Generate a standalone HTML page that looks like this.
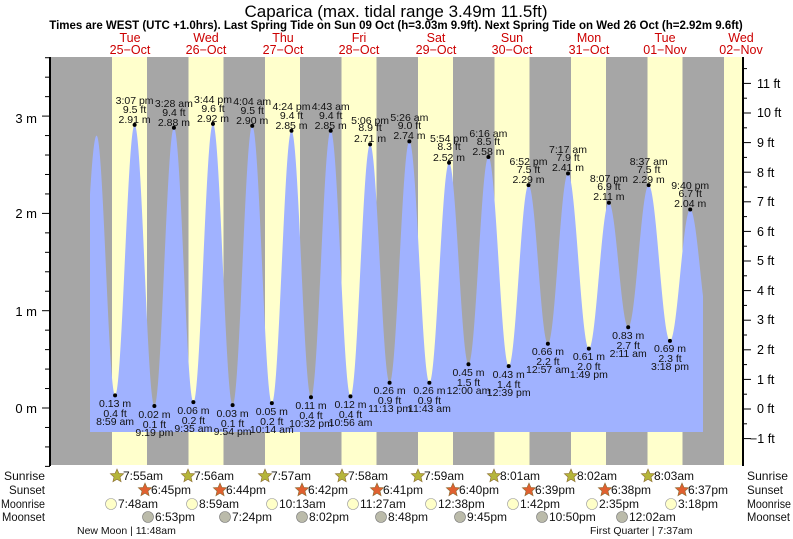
<!DOCTYPE html>
<html><head><meta charset="utf-8"><style>
body{margin:0;background:#fff;width:793px;height:539px;overflow:hidden}
svg{display:block;font-family:"Liberation Sans",sans-serif}
.t{font-size:10.5px;fill:#111;text-anchor:middle}
.d{font-size:12.5px;fill:#cc0000;text-anchor:middle}
.r{font-size:12px;fill:#111}
</style></head><body>
<svg id="s" width="793" height="539" viewBox="0 0 793 539">
<rect x="50" y="57" width="693" height="408" fill="#a6a6a6"/>
<g id="bands" fill="#ffffcc"></g>
<path id="tide" fill="#a0b2ff"/>
<g id="ticks" stroke="#000"></g>
<line x1="50" y1="57" x2="50" y2="466" stroke="#000" stroke-width="2"/>
<line x1="743" y1="57" x2="743" y2="466" stroke="#000" stroke-width="2"/>
<text x="396" y="17" font-size="17" text-anchor="middle">Caparica (max. tidal range 3.49m 11.5ft)</text>
<text x="396" y="29" font-size="11.5" font-weight="bold" text-anchor="middle">Times are WEST (UTC +1.0hrs). Last Spring Tide on Sun 09 Oct (h=3.03m 9.9ft). Next Spring Tide on Wed 26 Oct (h=2.92m 9.6ft)</text>
<g class="d">
<text x="130" y="42">Tue</text><text x="130" y="54">25−Oct</text>
<text x="206" y="42">Wed</text><text x="206" y="54">26−Oct</text>
<text x="283" y="42">Thu</text><text x="283" y="54">27−Oct</text>
<text x="359" y="42">Fri</text><text x="359" y="54">28−Oct</text>
<text x="436" y="42">Sat</text><text x="436" y="54">29−Oct</text>
<text x="512" y="42">Sun</text><text x="512" y="54">30−Oct</text>
<text x="589" y="42">Mon</text><text x="589" y="54">31−Oct</text>
<text x="665" y="42">Tue</text><text x="665" y="54">01−Nov</text>
<text x="741" y="42">Wed</text><text x="741" y="54">02−Nov</text>
</g>
<g font-size="13" text-anchor="end">
<text x="37" y="123">3 m</text><text x="37" y="218">2 m</text><text x="37" y="316">1 m</text><text x="37" y="413">0 m</text>
</g>
<g font-size="12.5">
<text x="757" y="88">11 ft</text><text x="757" y="117">10 ft</text><text x="757" y="147">9 ft</text><text x="757" y="177">8 ft</text><text x="757" y="206">7 ft</text><text x="757" y="236">6 ft</text><text x="757" y="265">5 ft</text><text x="757" y="295">4 ft</text><text x="757" y="324">3 ft</text><text x="757" y="354">2 ft</text><text x="757" y="384">1 ft</text><text x="757" y="413">0 ft</text><text x="750" y="443">−1 ft</text>
</g>
<g id="dots" fill="#000"></g>
<g class="t">
<text x="134.6" y="104">3:07 pm</text><text x="134.6" y="113">9.5 ft</text><text x="134.6" y="123">2.91 m</text>
<text x="173.9" y="107">3:28 am</text><text x="173.9" y="116">9.4 ft</text><text x="173.9" y="126">2.88 m</text>
<text x="213" y="103">3:44 pm</text><text x="213" y="112">9.6 ft</text><text x="213" y="122">2.92 m</text>
<text x="252.2" y="105">4:04 am</text><text x="252.2" y="114">9.5 ft</text><text x="252.2" y="124">2.90 m</text>
<text x="291.5" y="110">4:24 pm</text><text x="291.5" y="119">9.4 ft</text><text x="291.5" y="129">2.85 m</text>
<text x="330.7" y="110">4:43 am</text><text x="330.7" y="119">9.4 ft</text><text x="330.7" y="129">2.85 m</text>
<text x="370.1" y="124">5:06 pm</text><text x="370.1" y="131">8.9 ft</text><text x="370.1" y="142">2.71 m</text>
<text x="409.4" y="121">5:26 am</text><text x="409.4" y="129">9.0 ft</text><text x="409.4" y="139">2.74 m</text>
<text x="449" y="142">5:54 pm</text><text x="449" y="150">8.3 ft</text><text x="449" y="161">2.52 m</text>
<text x="488.4" y="137">6:16 am</text><text x="488.4" y="145">8.5 ft</text><text x="488.4" y="155">2.58 m</text>
<text x="528.5" y="165">6:52 pm</text><text x="528.5" y="173">7.5 ft</text><text x="528.5" y="183">2.29 m</text>
<text x="568" y="153">7:17 am</text><text x="568" y="161">7.9 ft</text><text x="568" y="171">2.41 m</text>
<text x="608.9" y="182">8:07 pm</text><text x="608.9" y="190">6.9 ft</text><text x="608.9" y="200">2.11 m</text>
<text x="648.7" y="165">8:37 am</text><text x="648.7" y="173">7.5 ft</text><text x="648.7" y="183">2.29 m</text>
<text x="690.2" y="189">9:40 pm</text><text x="690.2" y="197">6.7 ft</text><text x="690.2" y="207">2.04 m</text>

<text x="115.1" y="407">0.13 m</text><text x="115.1" y="417">0.4 ft</text><text x="115.1" y="425">8:59 am</text>
<text x="154.4" y="418">0.02 m</text><text x="154.4" y="428">0.1 ft</text><text x="154.4" y="436">9:19 pm</text>
<text x="193.4" y="414">0.06 m</text><text x="193.4" y="424">0.2 ft</text><text x="193.4" y="432">9:35 am</text>
<text x="232.6" y="417">0.03 m</text><text x="232.6" y="427">0.1 ft</text><text x="232.6" y="435">9:54 pm</text>
<text x="271.8" y="415">0.05 m</text><text x="271.8" y="425">0.2 ft</text><text x="271.8" y="433">10:14 am</text>
<text x="311" y="409">0.11 m</text><text x="311" y="419">0.4 ft</text><text x="311" y="427">10:32 pm</text>
<text x="350.5" y="408">0.12 m</text><text x="350.5" y="418">0.4 ft</text><text x="350.5" y="426">10:56 am</text>
<text x="389.6" y="394">0.26 m</text><text x="389.6" y="404">0.9 ft</text><text x="389.6" y="412">11:13 pm</text>
<text x="429.4" y="394">0.26 m</text><text x="429.4" y="404">0.9 ft</text><text x="429.4" y="412">11:43 am</text>
<text x="468.5" y="376">0.45 m</text><text x="468.5" y="386">1.5 ft</text><text x="468.5" y="394">12:00 am</text>
<text x="508.7" y="378">0.43 m</text><text x="508.7" y="388">1.4 ft</text><text x="508.7" y="396">12:39 pm</text>
<text x="547.9" y="355">0.66 m</text><text x="547.9" y="365">2.2 ft</text><text x="547.9" y="373">12:57 am</text>
<text x="588.9" y="360">0.61 m</text><text x="588.9" y="370">2.0 ft</text><text x="588.9" y="378">1:49 pm</text>
<text x="628.2" y="339">0.83 m</text><text x="628.2" y="349">2.7 ft</text><text x="628.2" y="357">2:11 am</text>
<text x="670" y="352">0.69 m</text><text x="670" y="362">2.3 ft</text><text x="670" y="370">3:18 pm</text>
</g>
<g class="r">
<text x="4" y="480" textLength="41" lengthAdjust="spacingAndGlyphs">Sunrise</text><text x="9" y="494" textLength="36" lengthAdjust="spacingAndGlyphs">Sunset</text><text x="1" y="508" textLength="44" lengthAdjust="spacingAndGlyphs">Moonrise</text><text x="2" y="521" textLength="43" lengthAdjust="spacingAndGlyphs">Moonset</text>
<text x="747" y="480" textLength="41" lengthAdjust="spacingAndGlyphs">Sunrise</text><text x="747" y="494" textLength="36" lengthAdjust="spacingAndGlyphs">Sunset</text><text x="747" y="508" textLength="44" lengthAdjust="spacingAndGlyphs">Moonrise</text><text x="747" y="521" textLength="43" lengthAdjust="spacingAndGlyphs">Moonset</text>
</g>
<g id="icons"></g>
<g class="r" font-size="11.5">
<text x="123" y="480">7:55am</text><text x="194" y="480">7:56am</text><text x="271" y="480">7:57am</text><text x="348" y="480">7:58am</text><text x="424" y="480">7:59am</text><text x="500" y="480">8:01am</text><text x="577" y="480">8:02am</text><text x="654" y="480">8:03am</text>
<text x="151" y="494">6:45pm</text><text x="226" y="494">6:44pm</text><text x="308" y="494">6:42pm</text><text x="383" y="494">6:41pm</text><text x="459" y="494">6:40pm</text><text x="535" y="494">6:39pm</text><text x="611" y="494">6:38pm</text><text x="688" y="494">6:37pm</text>
<text x="118" y="508">7:48am</text><text x="199" y="508">8:59am</text><text x="279" y="508">10:13am</text><text x="360" y="508">11:27am</text><text x="438" y="508">12:38pm</text><text x="520" y="508">1:42pm</text><text x="599" y="508">2:35pm</text><text x="678" y="508">3:18pm</text>
<text x="155" y="521">6:53pm</text><text x="232" y="521">7:24pm</text><text x="309" y="521">8:02pm</text><text x="388" y="521">8:48pm</text><text x="467" y="521">9:45pm</text><text x="549" y="521">10:50pm</text><text x="629" y="521">12:02am</text>
</g>
<g font-size="10.5" fill="#111">
<text x="77" y="534">New Moon | 11:48am</text><text x="590" y="534">First Quarter | 7:37am</text>
</g>
</svg>
<script>
var NS="http://www.w3.org/2000/svg";
function el(p,t,a){var e=document.createElementNS(NS,t);for(var k in a)e.setAttribute(k,a[k]);document.getElementById(p).appendChild(e);return e;}
for(var k=0;k<9;k++){var x=112+76.5*k;var w=Math.min(35,742-x);el("bands","rect",{x:x,y:57,width:w,height:408});}
var E=[[-3.5,0.05],[3.17,2.80],[8.98,0.13],[15.12,2.91],[21.32,0.02],[27.47,2.88],[33.58,0.06],[39.73,2.92],[45.9,0.03],[52.07,2.90],[58.23,0.05],[64.4,2.85],[70.53,0.11],[76.72,2.85],[82.93,0.12],[89.1,2.71],[95.22,0.26],[101.43,2.74],[107.72,0.26],[113.9,2.52],[120,0.45],[126.27,2.58],[132.65,0.43],[138.87,2.29],[144.95,0.66],[151.28,2.41],[157.82,0.61],[164.12,2.11],[170.18,0.83],[176.62,2.29],[183.3,0.69],[189.67,2.04],[195.9,0.8]];
function X(h){return 86.5+h*3.183;}function Y(m){return 408-m*97.3;}
var d="M90,432";
for(var x=90;x<=703;x+=0.5){var h=(x-86.5)/3.183;for(var i=0;i<E.length-1;i++){if(h>=E[i][0]&&h<=E[i+1][0])break;}
var a=E[i],b=E[i+1];var f=(h-a[0])/(b[0]-a[0]);var v=a[1]+(b[1]-a[1])*(1-Math.cos(Math.PI*f))/2;d+=" L"+x+","+Y(v).toFixed(1);}
d+=" L703,432 Z";document.getElementById("tide").setAttribute("d",d);
for(var i=2;i<E.length-1;i++){el("dots","circle",{cx:X(E[i][0]),cy:Y(E[i][1]),r:2});}
for(var m=-0.6;m<=3.61;m+=0.2){var y=Y(m);var mj=Math.abs(m-Math.round(m))<0.01;el("ticks","line",{x1:mj?42:45,x2:50,y1:y,y2:y});}
for(var f=-1;f<=11.6;f+=0.5){var y=409-f*29.6;var mj=Math.abs(f-Math.round(f))<0.01;el("ticks","line",{x1:743,x2:mj?751:747,y1:y,y2:y});}
function star(cx,cy,c){var p="";for(var i=0;i<10;i++){var r=i%2?3.2:7;var a=-Math.PI/2+i*Math.PI/5;p+=(cx+r*Math.cos(a)).toFixed(1)+","+(cy+r*Math.sin(a)).toFixed(1)+" ";}el("icons","polygon",{points:p,fill:c,stroke:"#8a6a30","stroke-width":0.6});}
[117,188,265,342,418,494,571,648].forEach(function(x){star(x,476,"#b5b53a");});
[145,220,302,377,453,529,605,682].forEach(function(x){star(x,490,"#e06030");});
[111,192,272,353,431,513,592,671].forEach(function(x){el("icons","circle",{cx:x,cy:504,r:5.5,fill:"#ffffc8",stroke:"#999","stroke-width":0.6});});
[148,225,302,381,460,542,622].forEach(function(x){el("icons","circle",{cx:x,cy:517,r:5.5,fill:"#bbbbaa",stroke:"#777","stroke-width":0.6});});
</script>
</body></html>
